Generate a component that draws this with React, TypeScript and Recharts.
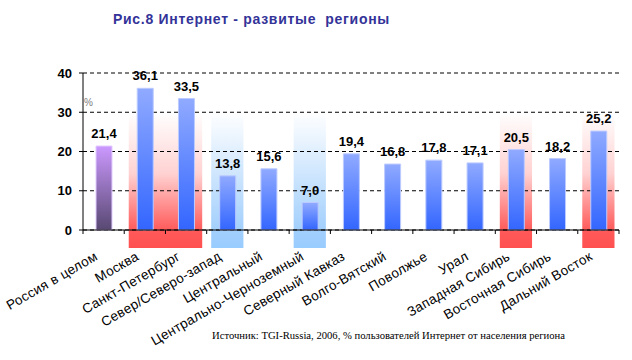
// Рис.8 — доля пользователей Интернет по регионам (TGI-Russia, 2006)

import {
  BarChart,
  Bar,
  Cell,
  XAxis,
  YAxis,
  CartesianGrid,
  ReferenceArea,
  LabelList,
} from 'recharts';

const regions = [
  'Россия в целом',
  'Москва',
  'Санкт-Петербург',
  'Север/Северо-запад',
  'Центральный',
  'Центрально-Черноземный',
  'Северный Кавказ',
  'Волго-Вятский',
  'Поволжье',
  'Урал',
  'Западная Сибирь',
  'Восточная Сибирь',
  'Дальний Восток',
];

const internetShare = [21.4, 36.1, 33.5, 13.8, 15.6, 7.0, 19.4, 16.8, 17.8, 17.1, 20.5, 18.2, 25.2];

const yTicks = [0, 10, 20, 30, 40];

// выделенные группы регионов: [от, до, цвет]
const highlightFrom = ['Москва', 'Север/Северо-запад', 'Центрально-Черноземный', 'Западная Сибирь', 'Дальний Восток'];
const highlightTo = ['Санкт-Петербург', 'Север/Северо-запад', 'Центрально-Черноземный', 'Западная Сибирь', 'Дальний Восток'];
const highlightTone = ['red', 'blue', 'blue', 'red', 'red'];
const highlightTop = 30;

const FONT = '"Liberation Sans", Arial, sans-serif';

const data = regions.map((name, i) => ({ name, share: internetShare[i] }));

const fmt = (v: number) => v.toFixed(1).replace('.', ',');

function HighlightShape(props: any) {
  const { x, y, width, height, tone } = props;
  return (
    <rect
      x={x + 4.5}
      y={y}
      width={width - 9}
      height={height + 18}
      fill={tone === 'red' ? 'url(#hlRed)' : 'url(#hlBlue)'}
    />
  );
}

function RegionTick(props: any) {
  const { x, y, payload } = props;
  const off = payload.offset || 20.6;
  const last = payload.value === regions[regions.length - 1];
  const tx = x - 5;
  const ty = y + 25;
  return (
    <g>
      <line x1={x - off} x2={x - off} y1={y - 4} y2={y} stroke="#000" />
      {last && <line x1={x + off} x2={x + off} y1={y - 4} y2={y} stroke="#000" />}
      <text
        x={tx}
        y={ty}
        textAnchor="end"
        transform={`rotate(-30 ${tx} ${ty})`}
        fontSize={13.5}
        letterSpacing={0.3}
        fontFamily={FONT}
        fill="#000"
      >
        {payload.value}
      </text>
    </g>
  );
}

export default function App() {
  return (
    <div style={{ position: 'absolute', left: 0, top: 0, width: 632, height: 360, background: '#fff' }}>
      <BarChart
        width={632}
        height={360}
        data={data}
        margin={{ top: 73, right: 13, bottom: 30, left: 23 }}
      >
        <defs>
          <linearGradient id="hlRed" x1="0" y1="0" x2="0" y2="1">
            <stop offset="0" stopColor="#ffffff" />
            <stop offset="0.45" stopColor="#ffd2d2" />
            <stop offset="0.87" stopColor="#ff5a5a" />
            <stop offset="1" stopColor="#ff5050" />
          </linearGradient>
          <linearGradient id="hlBlue" x1="0" y1="0" x2="0" y2="1">
            <stop offset="0" stopColor="#ffffff" />
            <stop offset="0.87" stopColor="#a2cffc" />
            <stop offset="1" stopColor="#99ccff" />
          </linearGradient>
          <linearGradient id="barBlue" x1="0" y1="0" x2="0" y2="1">
            <stop offset="0" stopColor="#90aaff" />
            <stop offset="1" stopColor="#3366ff" />
          </linearGradient>
          <linearGradient id="barPurple" x1="0" y1="0" x2="0" y2="1">
            <stop offset="0" stopColor="#cc99ff" />
            <stop offset="1" stopColor="#584872" />
          </linearGradient>
        </defs>
        {highlightFrom.map((from, i) => (
          <ReferenceArea
            key={from}
            x1={from}
            x2={highlightTo[i]}
            y1={0}
            y2={highlightTop}
            ifOverflow="visible"
            zIndex={-200}
            shape={(p: any) => <HighlightShape {...p} tone={highlightTone[i]} />}
          />
        ))}
        <CartesianGrid vertical={false} stroke="#000" strokeDasharray="4 3" />
        <XAxis
          dataKey="name"
          interval={0}
          height={100}
          tickLine={false}
          tickSize={4}
          tickMargin={0}
          axisLine={{ stroke: '#000' }}
          tick={<RegionTick />}
        />
        <YAxis
          width={60}
          domain={[0, 40]}
          ticks={yTicks}
          axisLine={{ stroke: '#000' }}
          tickLine={{ stroke: '#000' }}
          tickSize={4}
          tickMargin={7}
          tick={{ fontSize: 13, fontWeight: 'bold', fill: '#000', fontFamily: FONT }}
        />
        <Bar dataKey="share" barSize={16} isAnimationActive={false}>
          {data.map((d, i) => (
            <Cell
              key={d.name}
              fill={i === 0 ? 'url(#barPurple)' : 'url(#barBlue)'}
              stroke={i === 0 ? '#e2ccff' : '#bccbff'}
              strokeWidth={1}
            />
          ))}
          <LabelList
            dataKey="share"
            position="top"
            offset={8}
            formatter={(v: any) => fmt(Number(v))}
            style={{ fontSize: 13, fontWeight: 'bold', fill: '#000', fontFamily: FONT }}
          />
        </Bar>
      </BarChart>
      <svg
        width={632}
        height={360}
        style={{ position: 'absolute', left: 0, top: 0, pointerEvents: 'none' }}
      >
        <text
          x={113}
          y={24}
          fontSize={14}
          fontWeight="bold"
          letterSpacing={0.7}
          fill="#333399"
          fontFamily={FONT}
          style={{ whiteSpace: 'pre' }}
        >
          Рис.8 Интернет - развитые  регионы
        </text>
        <text x={84} y={106} fontSize={10} fill="#808080" fontFamily={FONT}>
          %
        </text>
        <text
          x={212}
          y={339}
          fontSize={11}
          textLength={353}
          lengthAdjust="spacingAndGlyphs"
          fill="#000"
          fontFamily='"Liberation Serif", "Times New Roman", serif'
        >
          Источник: TGI-Russia, 2006, % пользователей Интернет от населения региона
        </text>
      </svg>
    </div>
  );
}
